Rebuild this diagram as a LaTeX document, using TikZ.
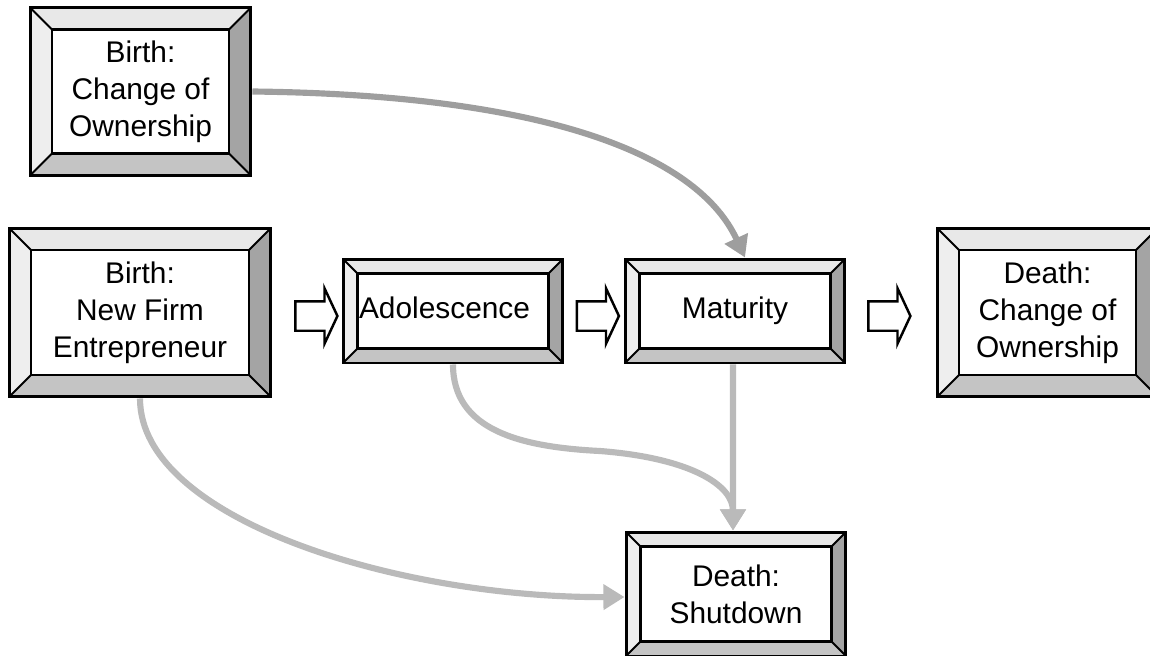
\documentclass[tikz,border=0pt]{standalone}
\usepackage{fontspec}
\setmainfont{Liberation Sans}
\usepackage{tikz}
\usetikzlibrary{arrows.meta, positioning, shapes.arrows, calc}
\definecolor{bvtop}{RGB}{232, 232, 232}
\definecolor{bvleft}{RGB}{238, 238, 238}
\definecolor{bvright}{RGB}{164, 164, 164}
\definecolor{bvbottom}{RGB}{196, 196, 196}
\definecolor{flowgray}{RGB}{186, 186, 186}
\definecolor{flowdark}{RGB}{158, 158, 158}
\newcommand{\boxfont}{\fontsize{17}{21}\selectfont}

\begin{document}
\begin{tikzpicture}[
    x=0.02cm, y=-0.02cm,
    bevelbox/.style={draw=black, line width=1.7pt, fill=white, inner sep=0pt,
        align=center, font=\boxfont,
        path picture={
            \path (path picture bounding box.north west) coordinate (c1)
                  (path picture bounding box.north east) coordinate (c2)
                  (path picture bounding box.south east) coordinate (c3)
                  (path picture bounding box.south west) coordinate (c4)
                  ($(c1)+(#1,-#1)$) coordinate (d1)
                  ($(c2)+(-#1,-#1)$) coordinate (d2)
                  ($(c3)+(-#1,#1)$) coordinate (d3)
                  ($(c4)+(#1,#1)$) coordinate (d4);
            \fill[bvtop, draw=none] (c1) -- (c2) -- (d2) -- (d1) -- cycle;
            \fill[bvright, draw=none] (c2) -- (c3) -- (d3) -- (d2) -- cycle;
            \fill[bvbottom, draw=none] (c3) -- (c4) -- (d4) -- (d3) -- cycle;
            \fill[bvleft, draw=none] (c4) -- (c1) -- (d1) -- (d4) -- cycle;
            \draw[line width=1.4pt] (d1) rectangle (d3);
            \draw[line width=1.1pt] (c1) -- (d1) (c2) -- (d2) (c3) -- (d3) (c4) -- (d4);
        }},
    bigbox/.style={bevelbox=0.44cm, minimum width=4.42cm, minimum height=3.36cm},
    smallbox/.style={bevelbox=0.29cm, minimum width=4.4cm, minimum height=2.08cm},
    oneline/.style={text height=12pt, text depth=3.5pt},
    hollow/.style={single arrow, draw=black, fill=white, line width=1.4pt,
        inner xsep=0pt, inner ysep=0.27cm, text height=0pt, text depth=0pt,
        single arrow head extend=0.26cm, single arrow tip angle=130,
        minimum height=0.84cm},
    flow/.style={line width=3.5pt, flowgray, -{Triangle[width=14pt, length=12pt]}},
    flowtop/.style={flow, flowdark}
]
\useasboundingbox (0,0) rectangle (1150,656);
\clip (0,0) rectangle (1150,656);

% Boxes
\node[bigbox] (bco) at (140.5,91.5) {Birth:\\Change of\\Ownership};
\node[bigbox, minimum width=5.24cm, minimum height=3.38cm] (bnf) at (140,312.5) {Birth:\\New Firm\\Entrepreneur};
\node[smallbox, oneline, text width=3.76cm, align=left] (ado) at (453,311) {Adolescence};
\node[smallbox, oneline] (mat) at (735,311) {Maturity};
\node[bigbox, minimum height=3.38cm] (dco) at (1047.5,312.5) {Death:\\Change of\\Ownership};
\node[smallbox, minimum height=2.48cm] (dsd) at (736,594) {Death:\\Shutdown};

% Stage arrows
\node[hollow] (ar1) at (313,316) {};
\node[hollow] (ar2) at (594.5,316) {};
\node[hollow] (ar3) at (886,316) {};

% Exit paths
\draw[flowtop] (bco.east) .. controls (560,95) and (700,160) .. ([xshift=0.2cm]mat.north);
\draw[flow] (bnf.south) .. controls (140,520) and (400,598) .. ([yshift=-0.06cm]dsd.west);
\draw[flow] (ado.south) .. controls (453,430) and (520,447) .. (600,451)
    .. controls (690,458) and (733,485) .. ([xshift=-0.06cm]dsd.north);
\draw[flow] ([xshift=-0.04cm]mat.south) -- ([xshift=-0.06cm]dsd.north);

\end{tikzpicture}
\end{document}
